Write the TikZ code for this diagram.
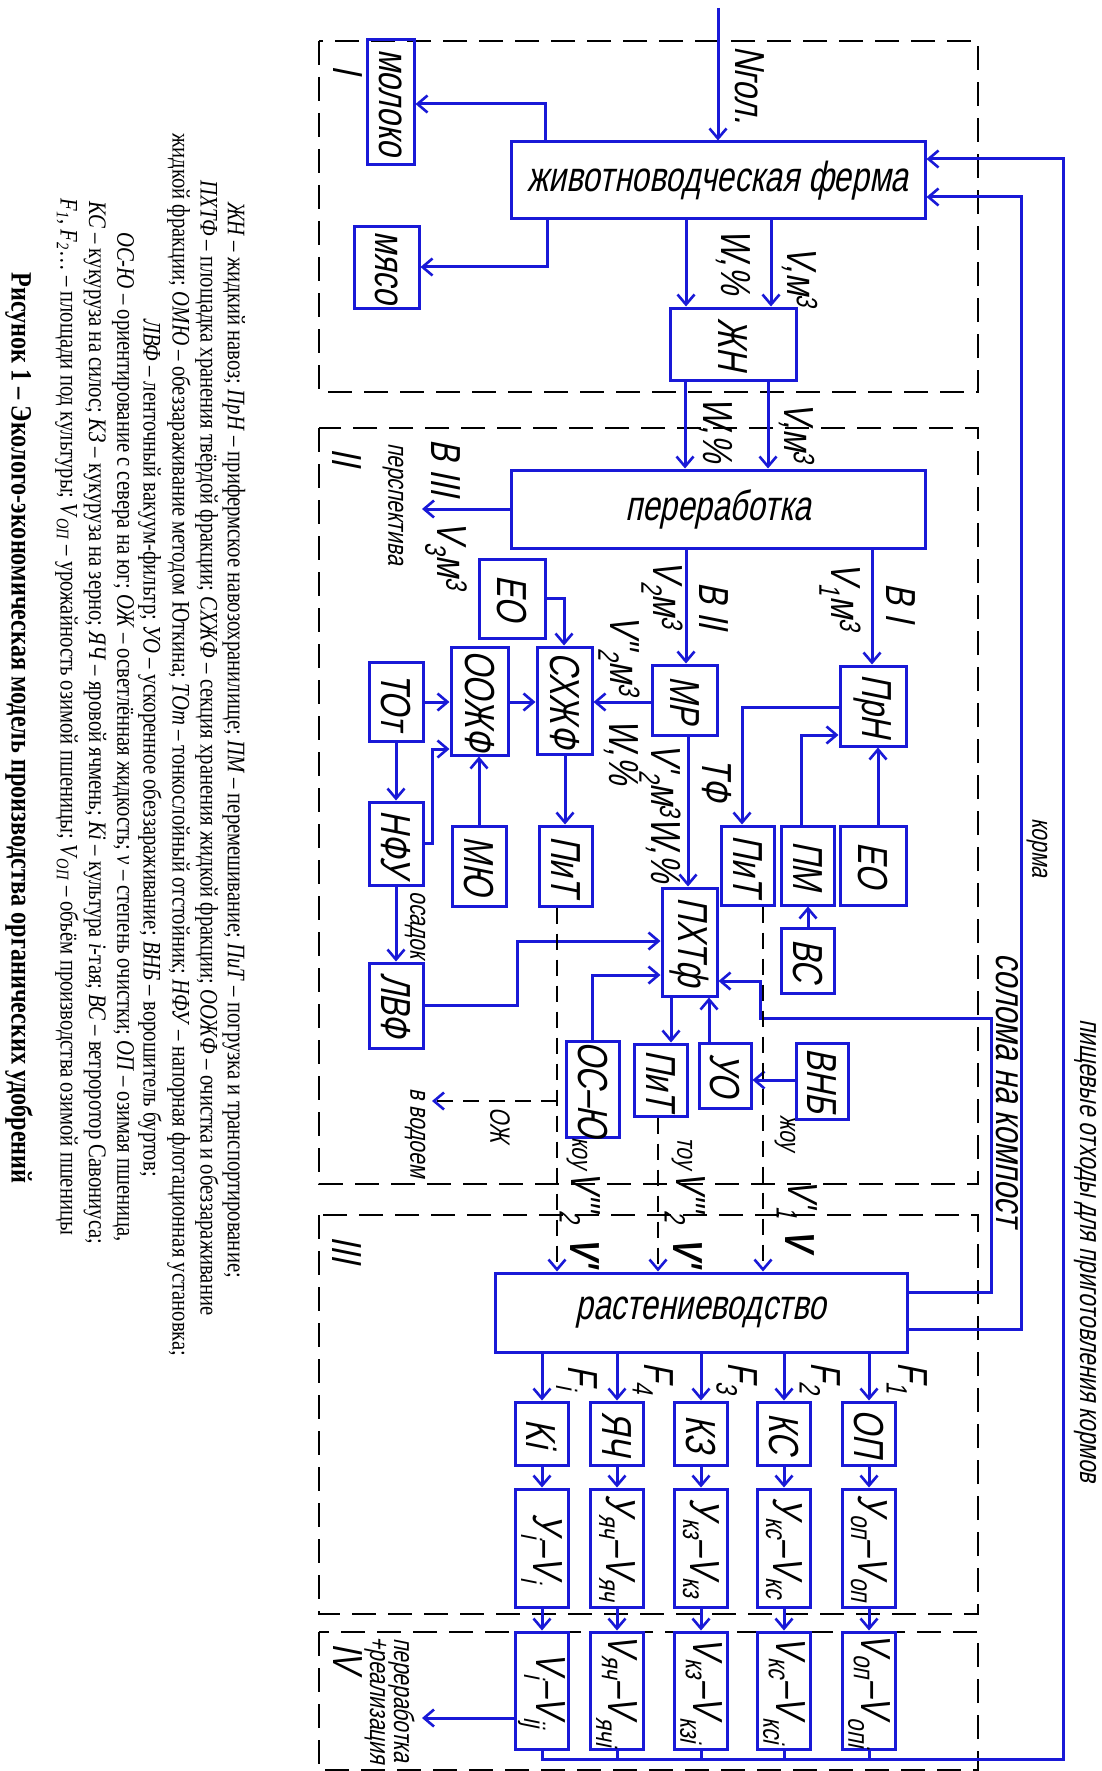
\documentclass[tikz,border=0pt]{standalone}
\usepackage{fontspec}
\usetikzlibrary{arrows.meta}
\newfontfamily\gost[FakeSlant=0.2,FakeStretch=0.75]{Liberation Sans}
\newfontfamily\capf[FakeStretch=0.82]{Liberation Serif}
\definecolor{bl}{RGB}{25,25,215}
\newcommand\fbig{\gost\fontsize{42}{44}\selectfont}
\newcommand\fsml{\gost\fontsize{28}{30}\selectfont}
\newcommand\fcap{\capf\fontsize{25.2}{27}\selectfont}
\newcommand\rt[1]{\rotatebox{-90}{#1}}
\newcommand\lo[1]{\textsubscript{#1}}
\newcommand\hi[1]{\textsuperscript{#1}}
\begin{document}
\begin{tikzpicture}[x=1pt,y=-1pt,
 box/.style={draw=bl,line width=3pt,inner sep=0pt,font=\fbig},
 lab/.style={inner sep=0pt,font=\fbig},
 slab/.style={inner sep=0pt,font=\fsml},
 captxt/.style={inner sep=0pt,font=\fcap},
 ln/.style={draw=bl,line width=3pt},
 arr/.style={draw=bl,line width=3pt,-{Straight Barb[length=10pt,width=17pt,line width=2.6pt]}},
 darr/.style={draw=black,line width=2pt,dash pattern=on 16pt off 10pt,-{Straight Barb[length=10pt,width=17pt,line width=2.6pt,color=bl]}},
 region/.style={draw=black,line width=2pt,dash pattern=on 24pt off 12pt}]
\fill[white] (0,0) rectangle (1102,1771);
\useasboundingbox (0,0) rectangle (1102,1771);

% regions
\draw[region] (319,41) rectangle (978,392);
\draw[region] (319,428) rectangle (978,1184);
\draw[region] (319,1215) rectangle (978,1614);
\draw[region] (319,1632) rectangle (978,1770);
\node[lab] (rI) at (348,70) {\rt{I}};
\node[lab] (rII) at (347,457) {\rt{II}};
\node[lab] (rIII) at (347,1250) {\rt{III}};
\node[lab] (rIV) at (348,1658) {\rt{IV}};
\node[slab,align=center] (rIVt) at (388,1700) {\rt{\begin{tabular}{@{}c@{}}переработка\\[-6pt]+реализация\end{tabular}}};

% boxes
\node[box,minimum width=414pt,minimum height=77pt] (farm) at (718,180.5) {животноводческая ферма};
\node[box,minimum width=47pt,minimum height=125pt] (moloko) at (390.5,102.5) {\rt{молоко}};
\node[box,minimum width=65pt,minimum height=81pt] (myaso) at (386.5,267.5) {\rt{мясо}};
\node[box,minimum width=126pt,minimum height=72pt] (zhn) at (733,344) {\rt{ЖН}};
\node[box,minimum width=414pt,minimum height=78pt] (pererab) at (718,509) {переработка};
\node[box,minimum width=66pt,minimum height=79pt] (eo1) at (512,598.5) {\rt{ЕО}};
\node[box,minimum width=55pt,minimum height=107pt] (sxzhf) at (564.5,700.5) {\rt{СХЖФ}};
\node[box,minimum width=57pt,minimum height=108pt] (oozhf) at (479.5,701) {\rt{ООЖФ}};
\node[box,minimum width=54pt,minimum height=79pt] (tot) at (396,701.5) {\rt{ТОт}};
\node[box,minimum width=65pt,minimum height=70pt] (mr) at (684.5,700) {\rt{МР}};
\node[box,minimum width=66pt,minimum height=80pt] (prn) at (873,706) {\rt{ПрН}};
\node[box,minimum width=54pt,minimum height=83pt] (nfu) at (396,843.5) {\rt{НФУ}};
\node[box,minimum width=54pt,minimum height=80pt] (myu) at (479,866) {\rt{МЮ}};
\node[box,minimum width=53pt,minimum height=80pt] (pit2) at (565.5,866) {\rt{ПиТ}};
\node[box,minimum width=53pt,minimum height=79pt] (pit1) at (747.5,865.5) {\rt{ПиТ}};
\node[box,minimum width=53pt,minimum height=79pt] (pm) at (807.5,865.5) {\rt{ПМ}};
\node[box,minimum width=66pt,minimum height=79pt] (eo2) at (873,865.5) {\rt{ЕО}};
\node[box,minimum width=53pt,minimum height=65pt] (vs) at (807.5,960.5) {\rt{ВС}};
\node[box,minimum width=55pt,minimum height=108pt] (phtf) at (689.5,942) {\rt{ПХТф}};
\node[box,minimum width=54pt,minimum height=85pt] (lvf) at (396,1005.5) {\rt{ЛВФ}};
\node[box,minimum width=53pt,minimum height=91pt] (oc) at (592.5,1089.5) {\rt{ОС–Ю}};
\node[box,minimum width=53pt,minimum height=72pt] (pit3) at (660.5,1080) {\rt{ПиТ}};
\node[box,minimum width=52pt,minimum height=65pt] (uo) at (725,1075.5) {\rt{УО}};
\node[box,minimum width=52pt,minimum height=76pt] (vnb) at (822,1081) {\rt{ВНБ}};
\node[box,minimum width=412pt,minimum height=79pt] (rast) at (701,1312.5) {растениеводство};

% crop columns
\node[box,minimum width=53pt,minimum height=63pt] (c1) at (542,1433.5) {\rt{Ki}};
\node[box,minimum width=53pt,minimum height=63pt] (c2) at (617,1433.5) {\rt{ЯЧ}};
\node[box,minimum width=53pt,minimum height=63pt] (c3) at (701,1433.5) {\rt{КЗ}};
\node[box,minimum width=53pt,minimum height=63pt] (c4) at (784,1433.5) {\rt{КС}};
\node[box,minimum width=53pt,minimum height=63pt] (c5) at (869,1433.5) {\rt{ОП}};
\node[box,minimum width=53pt,minimum height=118pt] (y1) at (542,1548) {\rt{У\lo{i}–V\lo{i}}};
\node[box,minimum width=53pt,minimum height=118pt] (y2) at (617,1548) {\rt{У\lo{яч}–V\lo{яч}}};
\node[box,minimum width=53pt,minimum height=118pt] (y3) at (701,1548) {\rt{У\lo{кз}–V\lo{кз}}};
\node[box,minimum width=53pt,minimum height=118pt] (y4) at (784,1548) {\rt{У\lo{кс}–V\lo{кс}}};
\node[box,minimum width=53pt,minimum height=118pt] (y5) at (869,1548) {\rt{У\lo{оп}–V\lo{оп}}};
\node[box,minimum width=53pt,minimum height=117pt] (v1) at (542,1690.5) {\rt{V\lo{i}–V\lo{ij}}};
\node[box,minimum width=53pt,minimum height=117pt] (v2) at (617,1690.5) {\rt{V\lo{яч}–V\lo{ячi}}};
\node[box,minimum width=53pt,minimum height=117pt] (v3) at (701,1690.5) {\rt{V\lo{кз}–V\lo{кзi}}};
\node[box,minimum width=53pt,minimum height=117pt] (v4) at (784,1690.5) {\rt{V\lo{кс}–V\lo{ксi}}};
\node[box,minimum width=53pt,minimum height=117pt] (v5) at (869,1690.5) {\rt{V\lo{оп}–V\lo{опi}}};

% free ends
\coordinate (nin) at (718,8);
\coordinate (b3) at (422,509);
\coordinate (ozA) at (557,1101);
\coordinate (ozB) at (432,1101);
\coordinate (out4) at (422,1718);

% connectors
\draw[arr] (nin) -- (farm.north);
\draw[arr] (545,0 |- farm.north) |- (moloko.east |- 0,104);
\draw[arr] (547,0 |- farm.south) |- (myaso.east |- 0,267);
\draw[arr] (686,0 |- farm.south) -- (686,0 |- zhn.north);
\draw[arr] (771,0 |- farm.south) -- (771,0 |- zhn.north);
\draw[arr] (685,0 |- zhn.south) -- (685,0 |- pererab.north);
\draw[arr] (768,0 |- zhn.south) -- (768,0 |- pererab.north);
\draw[arr] (pererab.west |- 0,509) -- (b3);
\draw[arr] (686,0 |- pererab.south) -- (686,0 |- mr.north);
\draw[arr] (872,0 |- pererab.south) -- (872,0 |- prn.north);
\draw[arr] (eo1.east |- 0,598) -| (564,0 |- sxzhf.north);
\draw[arr] (tot.east |- 0,702) -- (oozhf.west |- 0,702);
\draw[arr] (oozhf.east |- 0,702) -- (sxzhf.west |- 0,702);
\draw[arr] (mr.west |- 0,702) -- (sxzhf.east |- 0,702);
\draw[arr] (prn.west |- 0,707) -| (742,0 |- pit1.north);
\draw[arr] (801,0 |- pm.north) |- (prn.west |- 0,735);
\draw[arr] (878,0 |- eo2.north) -- (878,0 |- prn.south);
\draw[arr] (808,0 |- vs.north) -- (808,0 |- pm.south);
\draw[arr] (688,0 |- mr.south) -- (688,0 |- phtf.north);
\draw[arr] (565,0 |- sxzhf.south) -- (565,0 |- pit2.north);
\draw[arr] (396,0 |- tot.south) -- (nfu.north);
\draw[arr] (479,0 |- myu.north) -- (479,0 |- oozhf.south);
\draw[arr] (nfu.east |- 0,843) -| (432,749) -- (oozhf.west |- 0,749);
\draw[arr] (396,0 |- nfu.south) -- (lvf.north);
\draw[arr] (lvf.east |- 0,1005) -| (517,941) -- (phtf.west |- 0,941);
\draw[arr] (592,0 |- oc.north) |- (phtf.west |- 0,975);
\draw[arr] (671,0 |- phtf.south) -- (671,0 |- pit3.north);
\draw[arr] (709,0 |- uo.north) -- (709,0 |- phtf.south);
\draw[arr] (vnb.west |- 0,1080) -- (uo.east |- 0,1080);
\draw[arr] (rast.east |- 0,1292) -| (991,1018) -| (760,981) -- (phtf.east |- 0,981);
\draw[arr] (rast.east |- 0,1329) -| (1021,197) -- (farm.east |- 0,197);
\draw[arr] (v1.south) |- (1063,1759) |- (farm.east |- 0,159);
\draw[ln] (v2.south) -- (v2.south |- 0,1759);
\draw[ln] (v3.south) -- (v3.south |- 0,1759);
\draw[ln] (v4.south) -- (v4.south |- 0,1759);
\draw[ln] (v5.south) -- (v5.south |- 0,1759);
\draw[darr] (763,0 |- pit1.south) -- (763,0 |- rast.north);
\draw[darr] (557,0 |- pit2.south) -- (557,0 |- rast.north);
\draw[darr] (658,0 |- pit3.south) -- (658,0 |- rast.north);
\draw[darr] (ozA) -- (ozB);
\draw[arr] (v1.west |- 0,1718) -- (out4);
\foreach \k/\x in {1/542,2/617,3/701,4/784,5/869}{
  \draw[arr] (\x,0 |- rast.south) -- (c\k.north);
  \draw[arr] (c\k.south) -- (y\k.north);
  \draw[arr] (y\k.south) -- (v\k.north);
}

% labels
\node[lab] (lN) at (750,85) {\rt{Nгол.}};
\node[lab] (lW1) at (733,262) {\rt{W,\%}};
\node[lab] (lV1) at (800,277) {\rt{V,м\hi{3}}};
\node[lab] (lW2) at (715,430) {\rt{W,\%}};
\node[lab] (lV2) at (797,433) {\rt{V,м\hi{3}}};
\node[lab] (lB3) at (446,468) {\rt{В III}};
\node[lab] (lV3) at (446,556) {\rt{V\lo{3}м\hi{3}}};
\node[slab] (lpersp) at (393,504) {\rt{перспектива}};
\node[lab] (lV2b) at (662,595) {\rt{V\lo{2}м\hi{3}}};
\node[lab] (lB2) at (714,606) {\rt{В II}};
\node[lab] (lV1b) at (840,597) {\rt{V\lo{1}м\hi{3}}};
\node[lab] (lB1) at (901,603) {\rt{В I}};
\node[lab] (lV22) at (619,656) {\rt{V''\lo{2}м\hi{3}}};
\node[lab] (lW3) at (621,752) {\rt{W,\%}};
\node[lab] (lTF) at (717,780) {\rt{ТФ}};
\node[lab] (lV2c) at (660,813) {\rt{V'\lo{2}м\hi{3}W,\%}};
\node[slab] (losad) at (415,925) {\rt{осадок}};
\node[slab] (lozh) at (500,1125) {\rt{ОЖ}};
\node[slab] (lvod) at (415,1133) {\rt{в водоем}};
\node[slab] (lkou) at (577,1153) {\rt{коу}};
\node[lab] (lV3a) at (580,1197) {\rt{V'''\lo{2}}};
\node[lab] (lV3b) at (585,1252) {\rt{\bfseries V'}};
\node[slab] (ltou) at (682,1153) {\rt{тоу}};
\node[lab] (lV4a) at (685,1197) {\rt{V'''\lo{2}}};
\node[lab] (lV4b) at (688,1252) {\rt{\bfseries V'}};
\node[slab] (lzhou) at (785,1133) {\rt{жоу}};
\node[lab] (lV5a) at (797,1199) {\rt{V'\lo{1}}};
\node[lab] (lV5b) at (800,1240) {\rt{\bfseries V}};
\node[slab,font=\gost\fontsize{41}{43}\selectfont] (lsol) at (1007,1090) {\rt{солома на компост}};
\node[slab] (lkorm) at (1037,848) {\rt{корма}};
\node[slab,font=\gost\fontsize{30}{32}\selectfont] (lpish) at (1085,1251) {\rt{пищевые отходы для приготовления кормов}};
\node[lab] (lF1) at (907,1378) {\rt{F\lo{1}}};
\node[lab] (lF2) at (820,1378) {\rt{F\lo{2}}};
\node[lab] (lF3) at (737,1378) {\rt{F\lo{3}}};
\node[lab] (lF4) at (653,1378) {\rt{F\lo{4}}};
\node[lab] (lFi) at (577,1378) {\rt{F\lo{i}}};

% caption
\node[captxt] (cap1) at (234,740) {\rt{\textit{ЖН} – жидкий навоз; \textit{ПрН} – прифермское навозохранилище; \textit{ПМ} – перемешивание; \textit{ПиТ} – погрузка и транспортирование;}};
\node[captxt] (cap2) at (207,748) {\rt{\textit{ПХТФ} – площадка хранения твёрдой фракции; \textit{СХЖФ} – секция хранения жидкой фракции; \textit{ООЖФ} – очистка и обеззараживание}};
\node[captxt] (cap3) at (179,745) {\rt{жидкой фракции; \textit{ОМЮ} – обеззараживание методом Юткина; \textit{ТОт} – тонкослойный отстойник; \textit{НФУ} – напорная флотационная установка;}};
\node[captxt] (cap4) at (150,748) {\rt{\textit{ЛВФ} – ленточный вакуум-фильтр; \textit{УО} – ускоренное обеззараживание; \textit{ВНБ} – ворошитель буртов;}};
\node[captxt] (cap5) at (123,737) {\rt{\textit{ОС-Ю} – ориентирование с севера на юг; \textit{ОЖ} – осветлённая жидкость; \textit{ν} – степень очистки; \textit{ОП} – озимая пшеница,}};
\node[captxt] (cap6) at (95,723) {\rt{\textit{КС} – кукуруза на силос; \textit{КЗ} – кукуруза на зерно; \textit{ЯЧ} – яровой ячмень; \textit{Ki} – культура \textit{i}-тая; \textit{ВС} – ветроротор Савониуса;}};
\node[captxt] (cap7) at (67,717) {\rt{\textit{F}\lo{\textit{1}}, \textit{F}\lo{\textit{2}}… – площади под культуры; \textit{V}\lo{\textit{ОП}} – урожайность озимой пшеницы; \textit{V}\lo{\textit{ОП}} – объём производства озимой пшеницы}};
\node[captxt,font=\capf\fontsize{29.5}{31}\selectfont\bfseries] (cap8) at (19,728) {\rt{Рисунок 1 – Эколого-экономическая модель производства органических удобрений}};
\end{tikzpicture}
\end{document}
